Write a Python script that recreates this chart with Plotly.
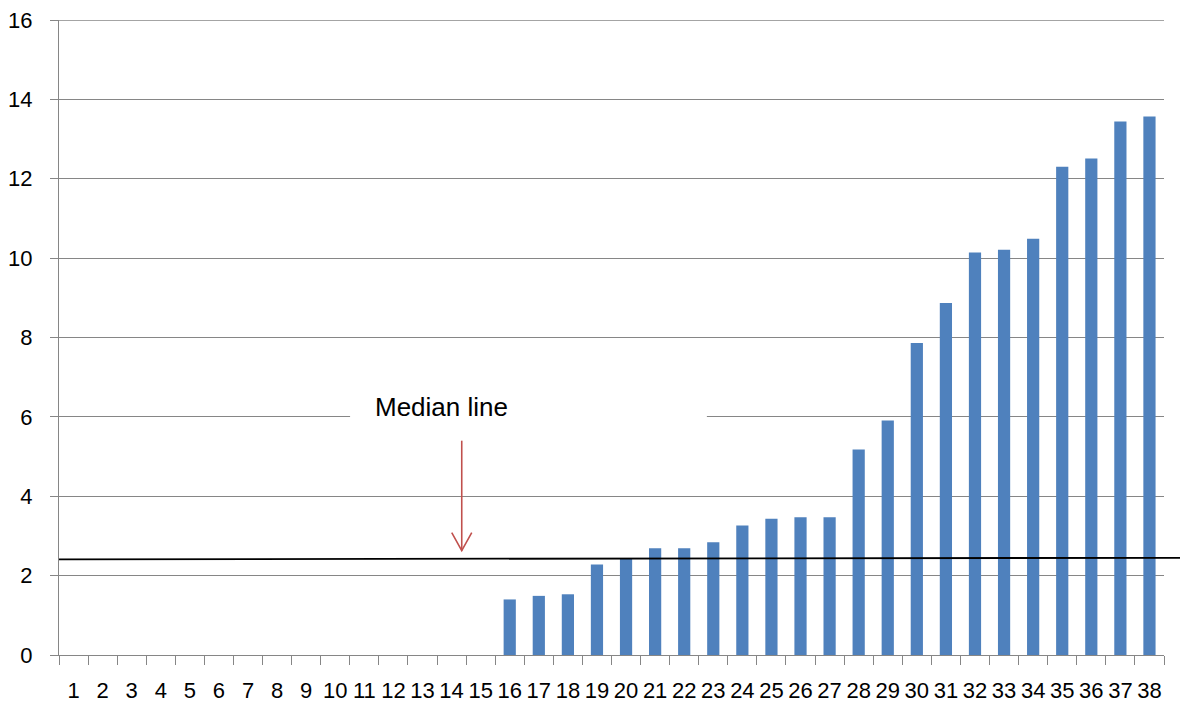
import plotly.graph_objects as go

categories = list(range(1, 39))
values = [0]*15 + [1.40, 1.49, 1.53, 2.28, 2.42, 2.69, 2.69, 2.84, 3.26, 3.43, 3.47, 3.47,
                   5.18, 5.91, 7.86, 8.87, 10.14, 10.21, 10.49, 12.30, 12.51, 13.44, 13.57]
y_ticks = [0, 2, 4, 6, 8, 10, 12, 14, 16]
median_line = [2.41, 2.45]  # left end, right end of the drawn median line
annotation_text = "Median line"

GRAY = "#868686"
FONT = "Liberation Sans"

fig = go.Figure()
fig.add_trace(go.Bar(
    x=categories, y=values,
    marker=dict(color="#4F81BD", line=dict(color="#A7C0DE", width=0)),
    width=0.42,
))

fig.update_layout(
    width=1188, height=705,
    margin=dict(l=51, r=32, t=12, b=58, autoexpand=False),
    plot_bgcolor="white", paper_bgcolor="white",
    showlegend=False,
    font=dict(family=FONT, size=22, color="black"),
)
fig.update_xaxes(
    range=[0.5, 38.5], tickmode="array", tickvals=categories,
    ticktext=[str(c) for c in categories],
    ticks="outside", ticklen=9, tickcolor="rgba(0,0,0,0)",
    showline=True, linecolor=GRAY, linewidth=1.3, showgrid=False, zeroline=False,
    minor=dict(tickmode="array", tickvals=[c - 0.5 for c in categories] + [38.5],
               ticks="outside", ticklen=9, tickcolor=GRAY, tickwidth=1.3, showgrid=False),
    ticklabelstandoff=6, automargin=False,
    tickfont=dict(size=22, family=FONT),
)
fig.update_yaxes(
    range=[0, 16], tickmode="array", tickvals=y_ticks,
    ticks="outside", ticklen=8, tickcolor=GRAY, tickwidth=1.3,
    showline=True, linecolor=GRAY, linewidth=1.3,
    showgrid=True, gridcolor=GRAY, gridwidth=1.3, zeroline=False,
    ticklabelstandoff=13, automargin=False, ticklabeloverflow="allow",
    tickfont=dict(size=22, family=FONT),
)

# top gridline (at the edge of the plot area)
fig.add_shape(type="line", xref="paper", yref="y", x0=0, x1=1, y0=y_ticks[-1], y1=y_ticks[-1],
              line=dict(color=GRAY, width=1.3), layer="below")

# median line extending to the right edge of the image
fig.add_shape(type="line", xref="paper", yref="y", x0=0, x1=1.03,
              y0=median_line[0], y1=median_line[1],
              line=dict(color="black", width=1.8), layer="above")

# white text box hiding the gridline
fig.add_shape(type="rect", xref="x", yref="y", x0=10.51, x1=22.78, y0=5.75, y1=6.9,
              fillcolor="white", line=dict(width=0), layer="between")
fig.add_annotation(x=13.67, y=6.26, xref="x", yref="y", text=annotation_text,
                   showarrow=False, font=dict(size=26, family=FONT, color="black"))

# arrow shaft
fig.add_shape(type="line", xref="x", yref="y", x0=14.35, x1=14.35, y0=2.63, y1=5.40,
              line=dict(color="#C0504D", width=1.6), layer="above")
# open arrow head
fig.add_shape(type="path", xref="x", yref="y", xsizemode="pixel", ysizemode="pixel",
              xanchor=14.35, yanchor=2.63, path="M -10 18 L 0 0 L 10 18",
              line=dict(color="#C0504D", width=1.6), layer="above")

fig.write_html("out.html")
